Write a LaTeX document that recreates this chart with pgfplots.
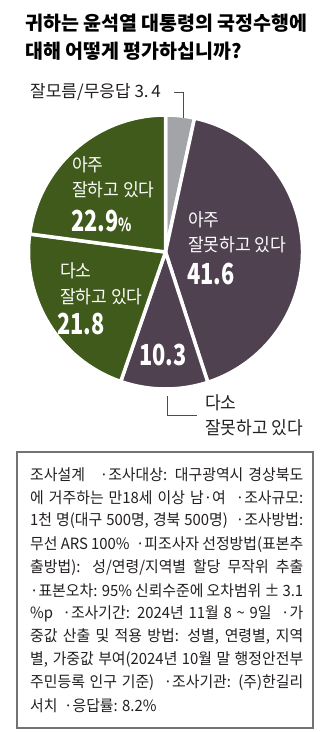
\documentclass[border=0pt]{standalone}
\usepackage{pgfplots}
\pgfplotsset{compat=1.18}
\usepackage{pgfplotstable}
\usepackage{fontspec}
\setmainfont{Noto Sans CJK KR}
\newfontfamily\titlefont{Noto Sans CJK KR}
\newfontfamily\labfont[FakeStretch=0.95]{Noto Sans CJK KR}
\newfontfamily\toplabfont{Noto Sans CJK KR}
\newfontfamily\boxfont[FakeStretch=0.96]{Noto Sans CJK KR}
\newfontfamily\numfont[FakeStretch=0.75]{Noto Sans CJK KR}
\definecolor{pc0}{HTML}{A3A4A8}
\definecolor{pc1}{HTML}{4F4150}
\definecolor{pc2}{HTML}{4F4150}
\definecolor{pc3}{HTML}{3F5A1A}
\definecolor{pc4}{HTML}{3F5A1A}
\definecolor{txt}{HTML}{231F20}
\newcommand{\bl}[2]{\node[anchor=west, inner sep=0pt, text=txt] at (axis cs:30,#1) {\boxfont\fontsize{15.5bp}{17bp}\selectfont\makebox[273bp][s]{#2}};}
\newcommand{\numtxt}[1]{\numfont\bfseries\fontsize{29bp}{30bp}\selectfont #1}
\newcommand{\labtxt}[1]{\labfont\fontsize{18bp}{20bp}\selectfont #1}

\pgfplotstableread{
label value
dontknow 3.4
verybad 41.6
somewhatbad 10.3
somewhatgood 21.8
verygood 22.9
}\piedata

\begin{document}
\begin{tikzpicture}
% cumulative angles (clockwise from top)
\def\cum{0}
\pgfplotsforeachungrouped \i in {0,...,4}{%
  \pgfplotstablegetelem{\i}{value}\of\piedata
  \pgfmathsetmacro\sA{90-3.6*\cum}%
  \pgfmathsetmacro\newcum{\cum+\pgfplotsretval}%
  \pgfmathsetmacro\sB{90-3.6*\newcum}%
  \expandafter\xdef\csname pS\i\endcsname{\sA}%
  \expandafter\xdef\csname pE\i\endcsname{\sB}%
  \xdef\cum{\newcum}%
}
\begin{axis}[
  x=1bp, y=1bp, y dir=reverse,
  xmin=0, xmax=331, ymin=0, ymax=732,
  hide axis, clip=false, anchor=origin,
]
\fill[white] (axis cs:0,0) rectangle (axis cs:331,732);
\pgfplotsinvokeforeach{0,...,4}{%
  \edef\tmp{\noexpand\filldraw[fill=pc#1, draw=white, line width=3.5bp, line join=round]
    (axis cs:165.5,252) -- ([shift={(\csname pS#1\endcsname:137bp)}]axis cs:165.5,252)
    arc[start angle=\csname pS#1\endcsname, end angle=\csname pE#1\endcsname, radius=137bp] -- cycle;}\tmp
}
% title
\node[anchor=west, inner sep=0pt, text=black] at (axis cs:25,23) {\titlefont\bfseries\fontsize{19.5bp}{21bp}\selectfont 귀하는 윤석열 대통령의 국정수행에};
\node[anchor=west, inner sep=0pt, text=black] at (axis cs:25,51) {\titlefont\bfseries\fontsize{19.5bp}{21bp}\selectfont 대해 어떻게 평가하십니까?};
% labels outside
\node[anchor=west, inner sep=0pt, text=txt] at (axis cs:30,92) {\toplabfont\fontsize{17bp}{19bp}\selectfont 잘모름/무응답 3.\,4};
\draw[black!70, line width=0.8bp] (axis cs:174,92) -- (axis cs:183,92) -- (axis cs:183,118);
\draw[black!70, line width=0.8bp] (axis cs:167,396) -- (axis cs:167,415) -- (axis cs:197,415);
\node[anchor=west, inner sep=0pt, text=txt] at (axis cs:205,403) {\labtxt{다소}};
\node[anchor=west, inner sep=0pt, text=txt] at (axis cs:205,428) {\labtxt{잘못하고 있다}};
% labels inside
\node[anchor=west, inner sep=0pt, text=white] at (axis cs:72,165) {\labtxt{아주}};
\node[anchor=west, inner sep=0pt, text=white] at (axis cs:72,190) {\labtxt{잘하고 있다}};
\node[anchor=west, inner sep=0pt, text=white] at (axis cs:71,221) {\numtxt{22.9{\fontsize{18bp}{19bp}\selectfont\%}}};
\node[anchor=west, inner sep=0pt, text=white] at (axis cs:60,271) {\labtxt{다소}};
\node[anchor=west, inner sep=0pt, text=white] at (axis cs:60,297) {\labtxt{잘하고 있다}};
\node[anchor=west, inner sep=0pt, text=white] at (axis cs:57,324) {\numtxt{21.8}};
\node[anchor=west, inner sep=0pt, text=white] at (axis cs:188,220) {\labtxt{아주}};
\node[anchor=west, inner sep=0pt, text=white] at (axis cs:188,245) {\labtxt{잘못하고 있다}};
\node[anchor=west, inner sep=0pt, text=white] at (axis cs:187,274) {\numtxt{41.6}};
\node[anchor=west, inner sep=0pt, text=white] at (axis cs:139,355) {\numtxt{10.3}};
% methodology box
\draw[black!55, line width=1.2bp] (axis cs:17,452) rectangle (axis cs:313,728);
\bl{475}{조사설계 \ \ ·조사대상: 대구광역시 경상북도}
\bl{498}{에 거주하는 만18세 이상 남·여 \ ·조사규모:}
\bl{521}{1천 명(대구 500명, 경북 500명) \ ·조사방법:}
\bl{545}{무선 ARS 100\% \ ·피조사자 선정방법(표본추}
\bl{568}{출방법): 성/연령/지역별 할당 무작위 추출}
\bl{591}{·표본오차: 95\% 신뢰수준에 오차범위 ± 3.1}
\bl{614}{\%p \ ·조사기간: 2024년 11월 8 \textasciitilde{} 9일 \ ·가}
\bl{637}{중값 산출 및 적용 방법: 성별, 연령별, 지역}
\bl{660}{별, 가중값 부여(2024년 10월 말 행정안전부}
\bl{683}{주민등록 인구 기준) \ ·조사기관: (주)한길리}
\node[anchor=west, inner sep=0pt, text=txt] at (axis cs:30,706) {\boxfont\fontsize{15.5bp}{17bp}\selectfont 서치 \ ·응답률: 8.2\%};
\end{axis}
\end{tikzpicture}
\end{document}
